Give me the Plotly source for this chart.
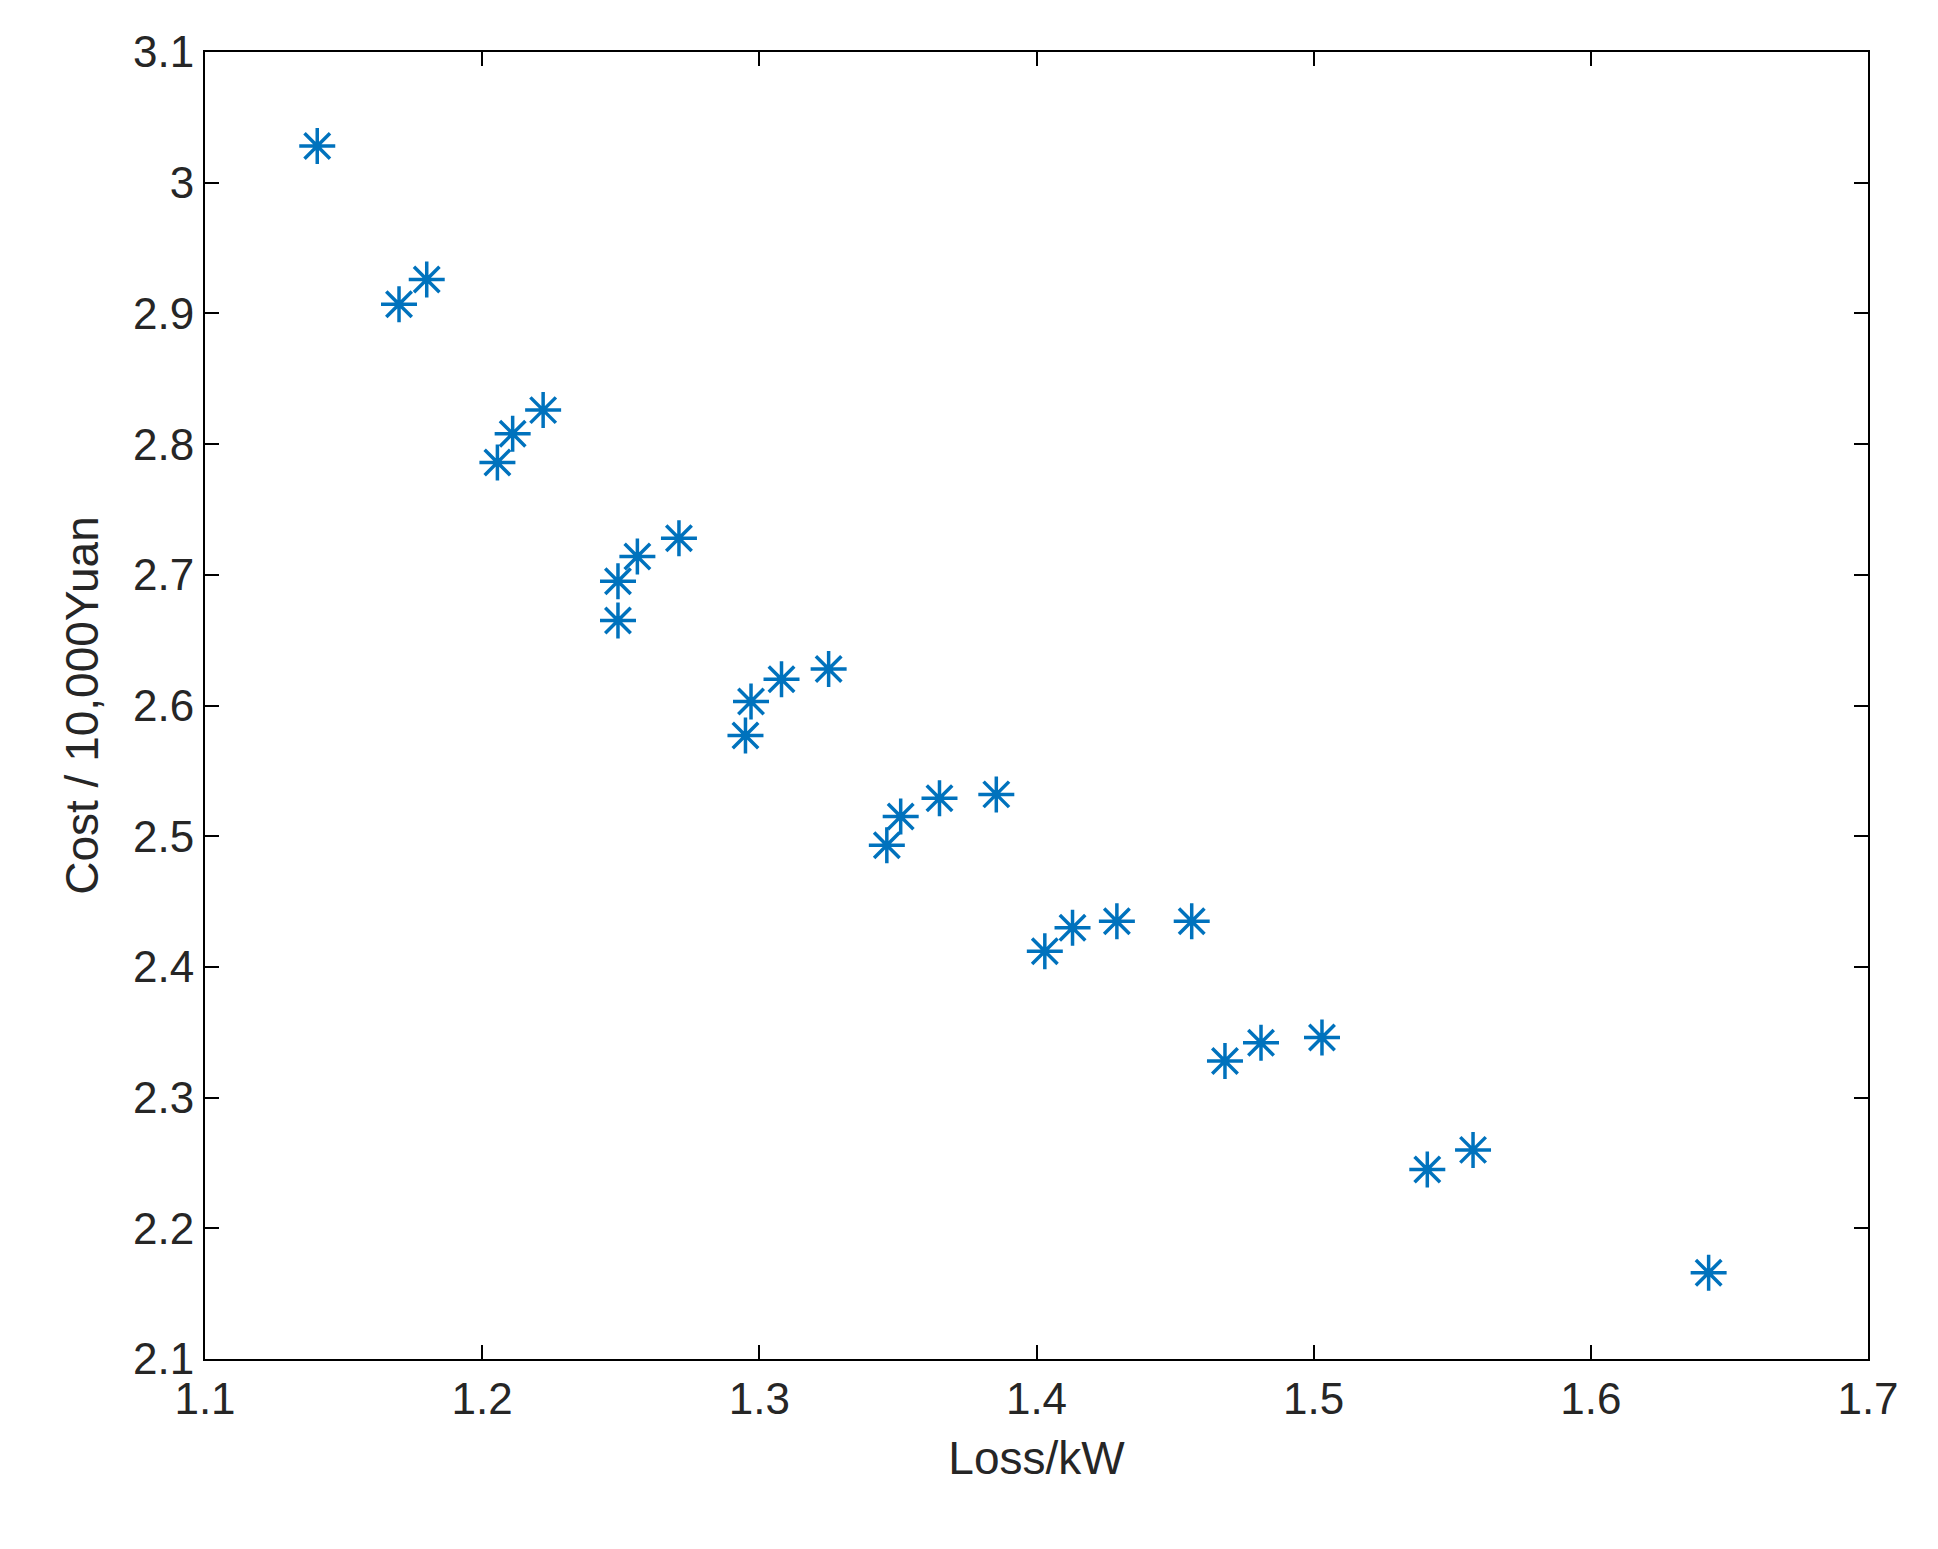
import plotly.graph_objects as go

loss = [1.1405,1.170,1.180,1.2055,1.211,1.222,1.249,1.249,1.256,1.271,1.295,1.297,1.308,1.325,1.346,1.351,1.365,1.3855,1.403,1.413,1.429,1.456,1.468,1.481,1.503,1.541,1.5575,1.6425]
cost = [3.028,2.907,2.926,2.786,2.808,2.826,2.695,2.665,2.714,2.728,2.577,2.603,2.620,2.628,2.493,2.515,2.529,2.532,2.412,2.430,2.435,2.435,2.328,2.342,2.346,2.245,2.260,2.166]

fig = go.Figure(go.Scatter(x=loss, y=cost, mode="markers",
    marker=dict(symbol="asterisk-open", size=30, color="#0072BD",
                line=dict(color="#0072BD", width=3.5))))

ax = dict(showline=True, linecolor="black", linewidth=2, mirror="ticks",
          ticks="inside", ticklen=14, tickwidth=2, tickcolor="black",
          showgrid=False, zeroline=False, tickfont=dict(size=44, color="#262626"),
          dtick=0.1)
fig.update_xaxes(**ax, range=[1.1, 1.7], title=dict(text="Loss/kW", font=dict(size=46, color="#262626"), standoff=20))
fig.update_yaxes(**ax, range=[2.1, 3.1], title=dict(text="Cost / 10,000Yuan", font=dict(size=46, color="#262626"), standoff=20))
fig.update_layout(width=1938, height=1549, plot_bgcolor="white", paper_bgcolor="white",
                  font=dict(family="Liberation Sans"), showlegend=False,
                  margin=dict(l=197, r=78, t=44, b=198))
fig.write_html("out.html")
